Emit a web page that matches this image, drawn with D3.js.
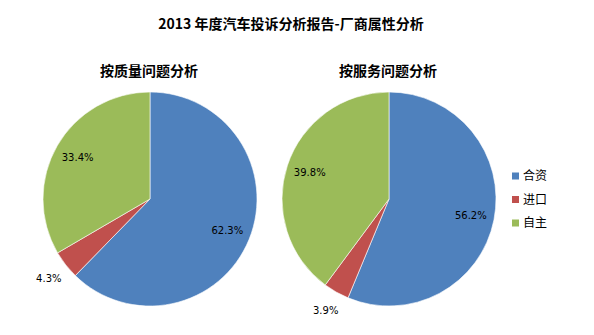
<!DOCTYPE html>
<html><head><meta charset="utf-8">
<script src="https://cdn.jsdelivr.net/npm/d3@7"></script>
<style>body{margin:0;background:#fff;}svg{display:block;}</style>
</head><body>
<script>
const categories = ["合资", "进口", "自主"];
const qualityValues = [62.3, 4.3, 33.4];
const serviceValues = [56.2, 3.9, 39.8];
const chartTitle = "2013 年度汽车投诉分析报告-厂商属性分析";
const pieTitles = ["按质量问题分析", "按服务问题分析"];
const colors = ["#4F81BD", "#C0504D", "#9BBB59"];

const W = 594, H = 335;
const svg = d3.select("body").append("svg").attr("width", W).attr("height", H);
const cjk = "'Noto Sans CJK SC', 'Noto Sans', sans-serif";

svg.append("text").attr("x", 291).attr("y", 29).attr("text-anchor", "middle")
  .attr("font-family", cjk).attr("font-weight", "bold").attr("font-size", 14)
  .attr("fill", "#000").text(chartTitle);

const color = d3.scaleOrdinal().domain(categories).range(colors);
const R = 107;
const pie = d3.pie().sort(null).value(d => d.v);
const arc = d3.arc().innerRadius(0).outerRadius(R);
const inLabel = d3.arc().innerRadius(R * 0.78).outerRadius(R * 0.78);
const outLabel = d3.arc().innerRadius(R * 1.2).outerRadius(R * 1.2);

const pies = [
  {title: pieTitles[0], values: qualityValues, cx: 150, cy: 199},
  {title: pieTitles[1], values: serviceValues, cx: 389, cy: 199}
];

pies.forEach(p => {
  const data = categories.map((c, i) => ({c, v: p.values[i]}));
  const g = svg.append("g").attr("transform", `translate(${p.cx},${p.cy})`);
  const arcs = pie(data);
  g.selectAll("path").data(arcs).join("path")
    .attr("d", arc).attr("fill", d => color(d.data.c))
    .attr("stroke", "#fff").attr("stroke-width", 0.6);
  g.selectAll("text.lbl").data(arcs).join("text").attr("class", "lbl")
    .attr("transform", d => {
      const c = (d.data.v < 10 ? outLabel : inLabel).centroid(d);
      return `translate(${c[0]},${c[1]})`;
    })
    .attr("text-anchor", "middle").attr("dy", "0.35em")
    .attr("font-family", "'DejaVu Sans', sans-serif").attr("font-size", 10)
    .attr("fill", "#000").text(d => d.data.v.toFixed(1) + "%");
  svg.append("text").attr("x", p.cx - 1).attr("y", 76).attr("text-anchor", "middle")
    .attr("font-family", cjk).attr("font-weight", "bold").attr("font-size", 14)
    .attr("fill", "#000").text(p.title);
});

const legend = svg.append("g").attr("transform", "translate(512,176)");
const li = legend.selectAll("g").data(categories).join("g")
  .attr("transform", (d, i) => `translate(0,${i * 23.5})`);
li.append("rect").attr("x", 0).attr("y", -3.5).attr("width", 7).attr("height", 7)
  .attr("fill", d => color(d));
li.append("text").attr("x", 11).attr("y", 0).attr("dy", "0.35em")
  .attr("font-family", cjk).attr("font-size", 12).attr("fill", "#000").text(d => d);
</script>
</body></html>
